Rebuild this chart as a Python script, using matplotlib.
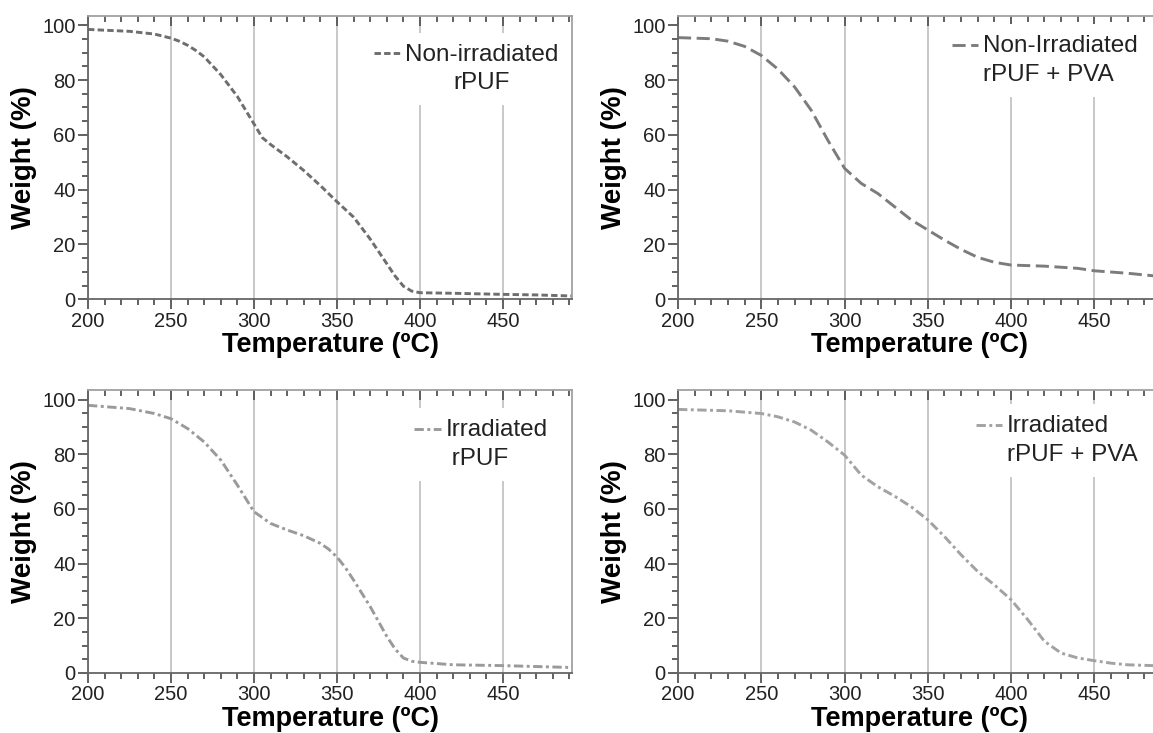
import matplotlib.pyplot as plt
from matplotlib.ticker import MultipleLocator
from matplotlib.legend_handler import HandlerLine2D

plt.rcParams['font.family'] = ['Liberation Sans', 'DejaVu Sans']

# TGA curves
temp_a = [200, 210, 225, 240, 250, 255, 260, 265, 270, 280, 290, 300, 305, 310, 320, 330, 340, 350,
          360, 370, 375, 380, 385, 390, 395, 400, 410, 420, 450, 470, 492]
weight_a = [98.5, 98.2, 97.8, 96.8, 95.3, 94.2, 92.7, 90.8, 88.5, 82, 74, 64, 59, 56.5, 52, 47, 41.5, 35.6,
            30, 22, 17.5, 13, 8.5, 4.8, 3.0, 2.4, 2.3, 2.2, 1.8, 1.6, 1.2]

temp_b = [200, 220, 230, 240, 250, 260, 270, 280, 290, 300, 310, 320, 330, 340, 350, 360, 370,
          380, 390, 400, 420, 440, 450, 470, 490]
weight_b = [95.5, 95.1, 94.2, 92.3, 89, 84, 77.5, 69, 58, 47.8, 42.3, 38.6, 33.8, 29, 25.3, 21.6, 18.2,
            15.3, 13.5, 12.5, 12.1, 11.3, 10.4, 9.5, 8.3]

temp_c = [200, 225, 240, 250, 260, 270, 280, 290, 300, 310, 320, 330, 340, 345, 350, 355, 360, 370,
          380, 385, 390, 395, 400, 420, 450, 492]
weight_c = [97.9, 96.7, 94.9, 93, 89.4, 84.5, 77.9, 68.7, 59, 54.7, 52.3, 50.2, 47.4, 45.3, 42.4, 38.6, 34, 24.3,
            13.4, 8.8, 5.5, 4.3, 3.9, 3.0, 2.7, 2.0]

temp_d = [200, 230, 250, 260, 270, 280, 290, 300, 310, 320, 330, 340, 350, 360, 370, 380,
          390, 400, 410, 420, 430, 440, 450, 460, 470, 490]
weight_d = [96.4, 95.9, 94.9, 93.7, 91.8, 88.8, 84.5, 79.7, 72.4, 68.1, 64.7, 60.8, 56, 49.9, 43.2, 37.1,
            32.2, 26.8, 19.5, 11.6, 7.3, 5.5, 4.5, 3.6, 3.0, 2.6]

labels = ["Non-irradiated\nrPUF", "Non-Irradiated\nrPUF + PVA", "Irradiated\n rPUF", "Irradiated\nrPUF + PVA"]


class FirstLineHandler(HandlerLine2D):
    # put the sample line next to the first text line
    def create_artists(self, legend, orig_handle, xdescent, ydescent, width, height, fontsize, trans):
        return super().create_artists(legend, orig_handle, xdescent, ydescent - 1.3 * fontsize,
                                      width, height, fontsize, trans)


fig = plt.figure(figsize=(11.53, 7.33), dpi=100)
W, H = 1153, 733

panels = [
    # left, right, top, bottom (px), xmax, data, style, legend anchor, align
    (88, 572, 15.7, 299.3, 491.6, temp_a, weight_a, dict(color='#6e6e6e', lw=2.1, dashes=(2.2, 1.1)), (0.995, 0.94), 'center'),
    (678, 1161, 15.7, 299.3, 490, temp_b, weight_b, dict(color='#7c7c7c', lw=2.1, dashes=(4.5, 1.9)), (0.975, 0.97), 'left'),
    (88, 572, 390, 673, 491.6, temp_c, weight_c, dict(color='#9a9a9a', lw=2.1, dashes=(3.2, 1.2, 1.0, 1.2)), (0.972, 0.935), 'left'),
    (678, 1161, 390, 673, 490, temp_d, weight_d, dict(color='#a2a2a2', lw=2.1, dashes=(3.2, 1.2, 1.0, 1.2)), (0.975, 0.95), 'left'),
]

for (l, r, t, b, xmax, xs, ys, style, anchor, align), lab in zip(panels, labels):
    ax = fig.add_axes([l / W, 1 - b / H, (r - l) / W, (b - t) / H])
    line, = ax.plot(xs, ys, label=lab, **style)
    ax.set_xlim(200, xmax)
    ax.set_ylim(0, 103.5)

    ax.xaxis.set_minor_locator(MultipleLocator(10))
    ax.yaxis.set_major_locator(MultipleLocator(20))
    ax.yaxis.set_minor_locator(MultipleLocator(5))
    ax.set_xticks([200, 250, 300, 350, 400, 450])
    ax.grid(axis='x', which='major', color='#c8c8c8', lw=1.4)
    ax.set_axisbelow(True)

    ax.tick_params(axis='both', which='both', direction='out', colors='#555555',
                   labelcolor='#222222', labelsize=14.5, width=1.3)
    ax.tick_params(which='major', length=7)
    ax.tick_params(which='minor', length=4.5)
    ax.tick_params(axis='x', which='both', top=True)
    ax.tick_params(axis='x', which='major', pad=2)
    ax.tick_params(axis='y', which='major', pad=2)
    ax.spines['left'].set_color('#666666')
    ax.spines['bottom'].set_color('#666666')
    ax.spines['top'].set_color('#a0a0a0')
    ax.spines['right'].set_color('#a0a0a0')
    for sp in ax.spines.values():
        sp.set_linewidth(1.3)
    # top ticks point inward
    for tk in ax.xaxis.get_major_ticks() + ax.xaxis.get_minor_ticks():
        tk.tick2line.set_marker(3)

    ax.set_xlabel('Temperature (ºC)', fontsize=19.5, fontweight='bold', labelpad=1)
    ax.set_ylabel('Weight (%)', fontsize=20, fontweight='bold', labelpad=4)

    leg = ax.legend(handler_map={line: FirstLineHandler()}, loc='upper right',
                    bbox_to_anchor=anchor, borderaxespad=0, fontsize=17.5,
                    handlelength=1.1, handletextpad=0.2, borderpad=0.45,
                    facecolor='white', edgecolor='none', framealpha=1, fancybox=False)
    for txt in leg.get_texts():
        txt.set_multialignment(align)
        txt.set_linespacing(1.4)
        txt.set_color('#222222')

fig.savefig('out.png', dpi=100)
